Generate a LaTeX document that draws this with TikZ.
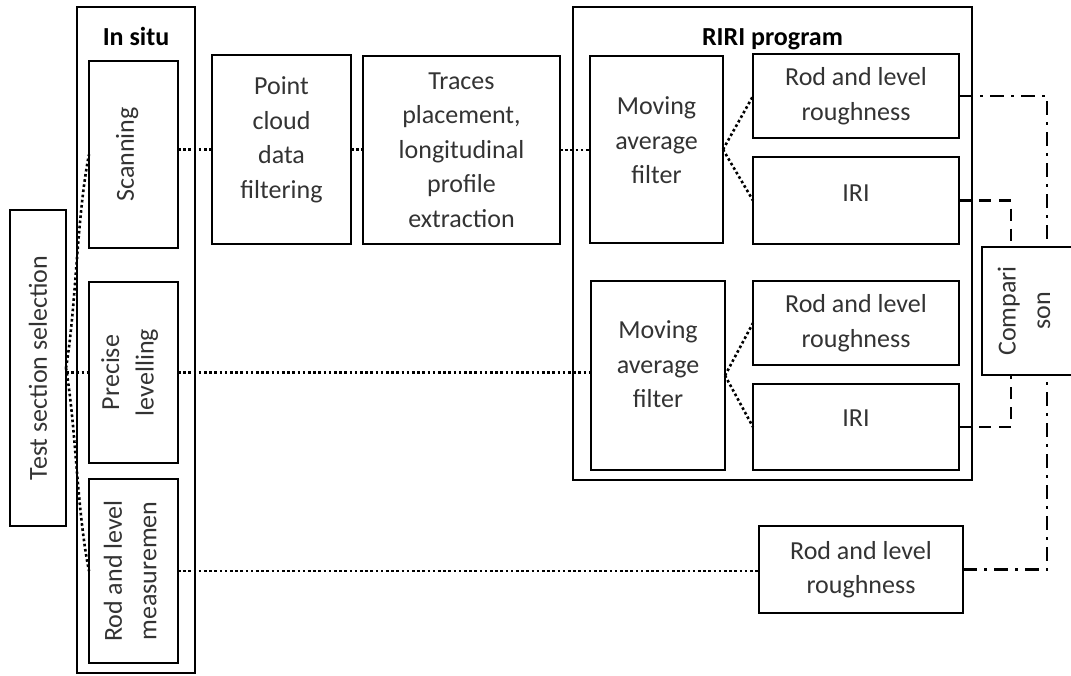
\documentclass[tikz,border=0pt]{standalone}
\usepackage{fontspec}
\setmainfont{Carlito}
\usepackage{tikz}
\usetikzlibrary{positioning}

\newcommand{\boxfont}{\fontsize{26}{34.5}\selectfont}

\begin{document}
\begin{tikzpicture}[x=1pt,y=-1pt,
        box/.style={draw,line width=2.6pt,inner sep=0pt,outer sep=0pt,align=center,text=black!80,font=\boxfont},
        vbox/.style={box,rotate=90},
        title/.style={inner sep=0pt,font=\boxfont\bfseries},
        link/.style={line width=2.6pt,dash pattern=on 2.6pt off 2.6pt},
        iriline/.style={line width=2.5pt,dash pattern=on 12pt off 8pt},
        rlrline/.style={line width=2.5pt,dash pattern=on 14pt off 7pt on 3pt off 7pt}]
    \useasboundingbox (0,0) rectangle (1071,675);
    % in situ
    \node[vbox,minimum width=316,minimum height=56] (test) at (38,368) {Test section selection};
    \node[box,minimum width=118,minimum height=666] (insitu) at (136,340) {};
    \node[title,below=20pt of insitu.north] (insitutitle) {In situ};
    \node[vbox,minimum width=187,minimum height=89,text depth=17pt] (scan) at (133.5,154.5) {Scanning};
    \node[vbox,minimum width=181,minimum height=89,text depth=12pt] (prec) at (133.5,372.5) {Precise\\levelling};
    \node[vbox,minimum width=184,minimum height=89,text depth=7pt] (rodm) at (133.5,571) {Rod and level\\measuremen};
    % scanning chain
    \node[box,minimum width=139,minimum height=189,text depth=24pt] (pcdf) at (281.5,149.5) {Point\\cloud\\data\\filtering};
    \node[box,minimum width=197,minimum height=188] (traces) at (461.5,150) {Traces\\placement,\\longitudinal\\profile\\extraction};
    % RIRI program
    \node[box,minimum width=399,minimum height=473] (riri) at (772.5,243.5) {};
    \node[title,below=21pt of riri.north] (rirititle) {RIRI program};
    \node[box,minimum width=133,minimum height=187,text depth=18pt] (maf1) at (656.5,149.5) {Moving\\average\\filter};
    \node[box,minimum width=134,minimum height=189,text depth=22pt] (maf2) at (658,375.5) {Moving\\average\\filter};
    \node[box,minimum width=206,minimum height=84] (rlr1) at (856,96) {Rod and level\\roughness};
    \node[box,minimum width=206,minimum height=87,text depth=14pt] (iri1) at (856,200.5) {IRI};
    \node[box,minimum width=206,minimum height=84] (rlr2) at (856,323) {Rod and level\\roughness};
    \node[box,minimum width=206,minimum height=86,text depth=18pt] (iri2) at (856,427) {IRI};
    \node[box,minimum width=204,minimum height=87] (rlr3) at (861,569.5) {Rod and level\\roughness};
    \node[vbox,minimum width=128,minimum height=96,text depth=12pt] (compari) at (1030,311) {Compari\\son};
    % dotted links
    \draw[link] (scan.south |- pcdf.west) -- (pcdf.west);
    \draw[link] (pcdf.east) -- (pcdf.east -| traces.west);
    \draw[link] (traces.east) -- (traces.east -| maf1.west);
    \draw[link] (maf1.east) -- (rlr1.west);
    \draw[link] (maf1.east) -- (iri1.west);
    \draw[link] (test.south |- prec.north) -- (prec.north);
    \draw[link] (prec.south) -- (prec.south -| maf2.west);
    \draw[link] (maf2.east) -- (rlr2.west);
    \draw[link] (maf2.east) -- (iri2.west);
    \draw[link] (rodm.south) -- (rodm.south -| rlr3.west);
    \draw[link] (test.south) .. controls +(10,-60) and +(-12,60) .. (scan.north);
    \draw[link] (test.south) .. controls +(10,60) and +(-12,-60) .. (rodm.north);
    % comparison
    \draw[rlrline] (rlr1.east) -| ([xshift=17pt]compari.east);
    \draw[iriline] (iri1.east) -| ([xshift=-19pt]compari.east);
    \draw[iriline] (iri2.east) -| ([xshift=-19pt]compari.west);
    \draw[rlrline] (rlr3.east) -| ([xshift=17pt]compari.west);
\end{tikzpicture}
\end{document}
